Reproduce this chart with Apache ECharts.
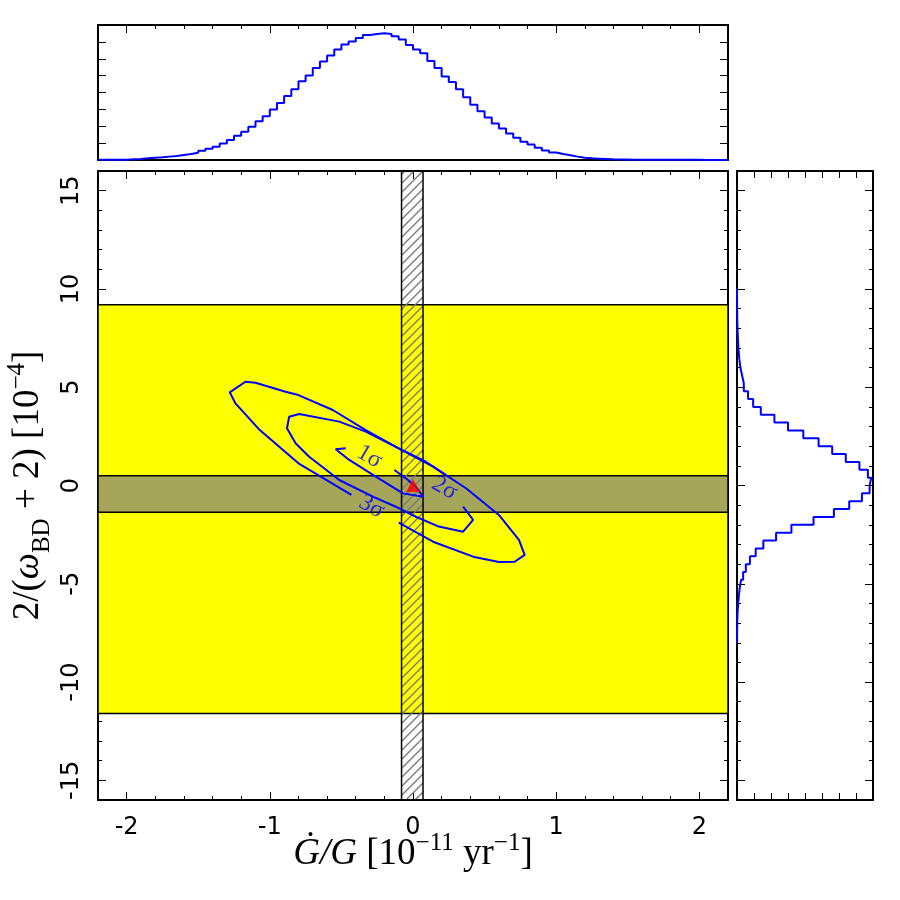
<!DOCTYPE html>
<html>
<head>
<meta charset="utf-8">
<script src="https://cdn.jsdelivr.net/npm/echarts@6/dist/echarts.min.js"></script>
<style>
html, body { margin: 0; padding: 0; background: #fff; }
#main { width: 900px; height: 900px; }
</style>
</head>
<body>
<div id="main"></div>
<script>
// top histogram (Gdot/G), bins of 0.05 starting at -2.2
var topStart = -2.2, topBin = 0.05;
var topCounts = [
  0.01, 0.01, 0.02, 0.02, 0.04, 0.06, 0.10, 0.14, 0.16, 0.20,
  0.24, 0.30, 0.35, 0.43, 0.55, 0.67, 0.79, 0.98, 1.18, 1.44,
  1.67, 1.97, 2.30, 2.60, 2.99, 3.38, 3.79, 4.19, 4.66, 5.01,
  5.45, 5.84, 6.19, 6.55, 6.84, 7.02, 7.23, 7.41, 7.47, 7.51,
  7.47, 7.33, 7.14, 6.82, 6.55, 6.33, 5.86, 5.45, 4.95, 4.62,
  4.19, 3.72, 3.28, 2.89, 2.52, 2.16, 1.87, 1.57, 1.32, 1.08,
  0.92, 0.73, 0.57, 0.45, 0.35, 0.28, 0.20, 0.14, 0.10, 0.08,
  0.06, 0.04, 0.03, 0.03, 0.02, 0.02, 0.01, 0.01, 0.01, 0.01,
  0.01, 0.01, 0.01, 0.01, 0.005, 0.005, 0.005, 0.005
];

// right histogram (2/(w+2)), bins of 0.4 starting at -8
var sideStart = -8.0, sideBin = 0.4;
var sideCounts = [
  0.005, 0.01, 0.02, 0.04, 0.07, 0.11, 0.16, 0.24, 0.36, 0.52,
  0.76, 1.10, 1.55, 2.30, 3.20, 4.50, 5.70, 6.60, 7.35, 7.80,
  7.90, 7.70, 7.20, 6.40, 5.60, 4.80, 3.90, 3.00, 2.20, 1.40,
  0.95, 0.65, 0.40, 0.30, 0.20, 0.14, 0.10, 0.07, 0.05, 0.03,
  0.015, 0.01, 0.005, 0.003, 0.002
];

// bounds drawn as bands
var yellowBand = [-11.6, 9.2];
var oliveBand = [-1.36, 0.5];
var hatchBand = [-0.08, 0.07];

// contour lines, broken where the labels sit
var sigma1 = [[-0.13, 0.79], [-0.05, 0.37], [0.02, -0.06], [0.07, -0.57], [-0.07, -0.40],
  [-0.26, 0.45], [-0.445, 1.30], [-0.54, 1.84], [-0.47, 1.89]];
var sigma2 = [[0.35, -1.08], [0.42, -1.75], [0.35, -2.35], [0.18, -2.09], [0.02, -1.59],
  [-0.12, -1.08], [-0.28, -0.57], [-0.515, 0.28], [-0.725, 1.46], [-0.82, 2.15],
  [-0.88, 2.91], [-0.865, 3.50], [-0.795, 3.64], [-0.515, 3.25], [-0.33, 2.74],
  [-0.12, 1.97], [0.09, 1.21], [0.23, 0.53]];
var sigma3 = [[-0.10, -1.89], [0.14, -2.86], [0.42, -3.62], [0.60, -3.89], [0.71, -3.88],
  [0.78, -3.53], [0.74, -2.77], [0.60, -1.50], [0.37, -0.14], [0.14, 0.96],
  [-0.10, 1.89], [-0.33, 2.82], [-0.56, 3.84], [-0.80, 4.60], [-0.89, 4.77],
  [-1.10, 5.23], [-1.17, 5.28], [-1.28, 4.74], [-1.24, 4.18], [-1.07, 2.82],
  [-0.80, 1.13], [-0.43, -0.48]];
var sigmaNames = ['1σ', '2σ', '3σ'];
var sigmaLabelPos = [[-0.305, 1.46], [0.22, -0.14], [-0.29, -1.08]];

var gr = [0, 0]; // GR prediction

function stairs(start, width, counts, swap) {
  var pts = [];
  counts.forEach(function (c, i) {
    var a = +(start + i * width).toFixed(4);
    var b = +(start + (i + 1) * width).toFixed(4);
    if (swap) { pts.push([c, a]); pts.push([c, b]); }
    else { pts.push([a, c]); pts.push([b, c]); }
  });
  return pts;
}

// hatch pattern for the vertical band
var hatch = document.createElement('canvas');
hatch.width = 9; hatch.height = 9;
var hc = hatch.getContext('2d');
hc.strokeStyle = '#7a7a7a';
hc.lineWidth = 1.4;
hc.beginPath();
hc.moveTo(-1, 10); hc.lineTo(10, -1);
hc.moveTo(-2, 2); hc.lineTo(2, -2);
hc.moveTo(7, 11); hc.lineTo(11, 7);
hc.stroke();

var tickFont = { fontFamily: 'DejaVu Sans', fontSize: 24, color: '#000' };

function ax(o) {
  var a = {
    type: 'value',
    axisLine: { show: true, onZero: false, lineStyle: { color: '#000', width: 2 } },
    axisTick: { show: true, inside: true, length: 8, lineStyle: { color: '#000', width: 1 } },
    minorTick: { show: false },
    axisLabel: { show: false },
    splitLine: { show: false },
    minorSplitLine: { show: false }
  };
  for (var k in o) a[k] = o[k];
  return a;
}
var minor5 = { show: true, splitNumber: 5, length: 4, lineStyle: { color: '#000', width: 1 } };

var rich = {
  m: { fontFamily: 'Liberation Serif', fontSize: 37, color: '#000', verticalAlign: 'bottom', padding: [0, 0, 8, 0] },
  i: { fontFamily: 'Liberation Serif', fontStyle: 'italic', fontSize: 37, color: '#000', verticalAlign: 'bottom', padding: [0, 0, 8, 0] },
  sup: { fontFamily: 'Liberation Serif', fontSize: 25, color: '#000', verticalAlign: 'bottom', padding: [0, 0, 25, 0] },
  sub: { fontFamily: 'Liberation Serif', fontSize: 25, color: '#000', verticalAlign: 'bottom', padding: [0, 0, 0, 0] }
};

var xMain = { min: -2.2, max: 2.2, splitNumber: 4 };
var yMain = { min: -16, max: 16, splitNumber: 6 };

var option = {
  animation: false,
  backgroundColor: '#fff',
  grid: [
    { left: 98, top: 171, width: 630, height: 629, containLabel: false, outerBoundsMode: 'none' },
    { left: 98, top: 25, width: 630, height: 135, containLabel: false, outerBoundsMode: 'none' },
    { left: 737, top: 171, width: 136, height: 629, containLabel: false, outerBoundsMode: 'none' }
  ],
  xAxis: [
    ax(Object.assign({ gridIndex: 0, position: 'bottom', minorTick: minor5,
      axisLabel: Object.assign({ show: true, margin: 16, showMinLabel: false, showMaxLabel: false }, tickFont),
      name: '{i|Ġ/G}{m| [10}{sup|−11}{m| yr}{sup|−1}{m|]}',
      nameLocation: 'middle', nameGap: 31, nameMoveOverlap: false,
      nameTextStyle: { rich: rich } }, xMain)),
    ax(Object.assign({ gridIndex: 0, position: 'top', minorTick: minor5 }, xMain)),
    ax(Object.assign({ gridIndex: 1, position: 'bottom', axisTick: { show: false } }, xMain)),
    ax(Object.assign({ gridIndex: 1, position: 'top', minorTick: minor5 }, xMain)),
    ax({ gridIndex: 2, position: 'bottom', min: 0, max: 8, interval: 1, axisTick: { show: true, inside: true, length: 7, lineStyle: { color: '#000', width: 1 } } }),
    ax({ gridIndex: 2, position: 'top', min: 0, max: 8, interval: 1, axisTick: { show: true, inside: true, length: 7, lineStyle: { color: '#000', width: 1 } } })
  ],
  yAxis: [
    ax(Object.assign({ gridIndex: 0, position: 'left', minorTick: minor5,
      axisLabel: Object.assign({ show: true, rotate: 90, margin: 14, showMinLabel: false, showMaxLabel: false }, tickFont),
      name: '{m|2/(}{i|ω}{sub|BD}{m| + 2) [10}{sup|−4}{m|]}',
      nameLocation: 'middle', nameRotate: 90, nameGap: 43, nameMoveOverlap: false,
      nameTextStyle: { rich: rich } }, yMain)),
    ax(Object.assign({ gridIndex: 0, position: 'right', minorTick: minor5 }, yMain)),
    ax({ gridIndex: 1, position: 'left', min: 0, max: 8, interval: 1 }),
    ax({ gridIndex: 1, position: 'right', min: 0, max: 8, interval: 1 }),
    ax(Object.assign({ gridIndex: 2, position: 'left', minorTick: minor5 }, yMain)),
    ax(Object.assign({ gridIndex: 2, position: 'right', minorTick: minor5 }, yMain))
  ],
  series: [
    {
      type: 'line', xAxisIndex: 0, yAxisIndex: 0, data: [], silent: true, z: 1,
      markArea: {
        silent: true,
        label: { show: false },
        data: [
          [{ yAxis: yellowBand[1], itemStyle: { color: '#ffff00', borderColor: '#000', borderWidth: 1.5 } }, { yAxis: yellowBand[0] }],
          [{ yAxis: oliveBand[1], itemStyle: { color: '#a6a65a', borderColor: '#000', borderWidth: 1.5 } }, { yAxis: oliveBand[0] }],
          [{ xAxis: hatchBand[0], itemStyle: { color: { image: hatch, repeat: 'repeat' }, borderColor: '#000', borderWidth: 1.5 } }, { xAxis: hatchBand[1] }]
        ]
      }
    },
    { type: 'line', xAxisIndex: 0, yAxisIndex: 0, data: sigma3, symbol: 'none', z: 3, lineStyle: { color: '#0000ff', width: 2 } },
    { type: 'line', xAxisIndex: 0, yAxisIndex: 0, data: sigma2, symbol: 'none', z: 3, lineStyle: { color: '#0000ff', width: 2 } },
    { type: 'line', xAxisIndex: 0, yAxisIndex: 0, data: sigma1, symbol: 'none', z: 3, lineStyle: { color: '#0000ff', width: 2 } },
    {
      type: 'scatter', xAxisIndex: 0, yAxisIndex: 0, z: 4, symbolSize: 2,
      itemStyle: { color: 'rgba(0,0,0,0)' },
      data: sigmaLabelPos.map(function (p, i) { return [p[0], p[1], sigmaNames[i]]; }),
      label: {
        show: true, position: 'inside', rotate: -30,
        formatter: function (p) { return p.value[2]; },
        fontFamily: 'Liberation Serif', fontSize: 24, color: '#0000ff'
      }
    },
    {
      type: 'scatter', xAxisIndex: 0, yAxisIndex: 0, z: 5, symbol: 'triangle', symbolSize: [14, 13],
      itemStyle: { color: '#ff0000' }, data: [gr]
    },
    { type: 'line', xAxisIndex: 2, yAxisIndex: 2, data: stairs(topStart, topBin, topCounts, false), symbol: 'none', lineStyle: { color: '#0000ff', width: 2 } },
    { type: 'line', xAxisIndex: 4, yAxisIndex: 4, data: stairs(sideStart, sideBin, sideCounts, true), symbol: 'none', lineStyle: { color: '#0000ff', width: 2 } }
  ]
};

var chart = echarts.init(document.getElementById('main'));
chart.setOption(option);
</script>
</body>
</html>
